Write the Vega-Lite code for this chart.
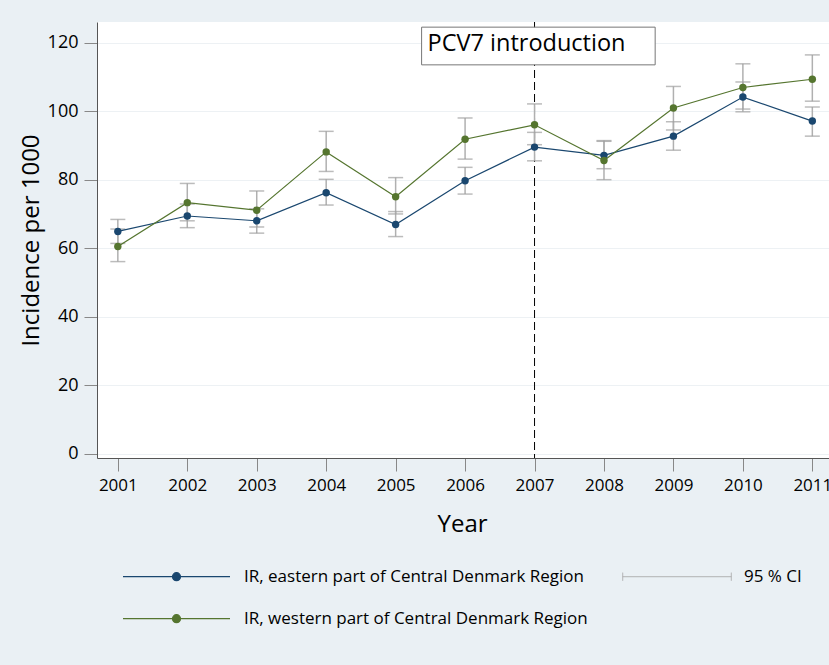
{
  "$schema": "https://vega.github.io/schema/vega-lite/v6.json",
  "width": 732,
  "height": 436,
  "autosize": {"type": "none"},
  "padding": {"left": 97, "top": 22, "right": 0, "bottom": 207},
  "background": "#eaf0f4",
  "config": {
    "view": {"fill": "white", "stroke": null},
    "font": "Open Sans",
    "axis": {
      "labelFont": "Open Sans",
      "titleFont": "Open Sans",
      "labelColor": "#000000",
      "titleColor": "#000000",
      "titleFontWeight": "normal",
      "domainColor": "#555555",
      "tickColor": "#888888",
      "tickSize": 13,
      "labelFontSize": 17,
      "titleFontSize": 24
    }
  },
  "datasets": {
    "ir": [
      {"year": 2001, "series": "IR, eastern part of Central Denmark Region", "ir": 64.9, "lo": 61.4, "hi": 68.4},
      {"year": 2002, "series": "IR, eastern part of Central Denmark Region", "ir": 69.4, "lo": 66.0, "hi": 72.9},
      {"year": 2003, "series": "IR, eastern part of Central Denmark Region", "ir": 68.0, "lo": 64.4, "hi": 71.5},
      {"year": 2004, "series": "IR, eastern part of Central Denmark Region", "ir": 76.2, "lo": 72.6, "hi": 80.1},
      {"year": 2005, "series": "IR, eastern part of Central Denmark Region", "ir": 66.9, "lo": 63.4, "hi": 70.7},
      {"year": 2006, "series": "IR, eastern part of Central Denmark Region", "ir": 79.7, "lo": 75.8, "hi": 83.6},
      {"year": 2007, "series": "IR, eastern part of Central Denmark Region", "ir": 89.5, "lo": 85.5, "hi": 93.8},
      {"year": 2008, "series": "IR, eastern part of Central Denmark Region", "ir": 87.1, "lo": 83.2, "hi": 91.2},
      {"year": 2009, "series": "IR, eastern part of Central Denmark Region", "ir": 92.7, "lo": 88.6, "hi": 96.9},
      {"year": 2010, "series": "IR, eastern part of Central Denmark Region", "ir": 104.1, "lo": 99.8, "hi": 108.5},
      {"year": 2011, "series": "IR, eastern part of Central Denmark Region", "ir": 97.1, "lo": 92.7, "hi": 101.2},
      {"year": 2001, "series": "IR, western part of Central Denmark Region", "ir": 60.5, "lo": 56.1, "hi": 65.6},
      {"year": 2002, "series": "IR, western part of Central Denmark Region", "ir": 73.3, "lo": 68.0, "hi": 78.9},
      {"year": 2003, "series": "IR, western part of Central Denmark Region", "ir": 71.1, "lo": 66.2, "hi": 76.7},
      {"year": 2004, "series": "IR, western part of Central Denmark Region", "ir": 88.1, "lo": 82.4, "hi": 94.1},
      {"year": 2005, "series": "IR, western part of Central Denmark Region", "ir": 75.0, "lo": 70.0, "hi": 80.6},
      {"year": 2006, "series": "IR, western part of Central Denmark Region", "ir": 91.8, "lo": 86.0, "hi": 98.0},
      {"year": 2007, "series": "IR, western part of Central Denmark Region", "ir": 96.0, "lo": 90.2, "hi": 102.1},
      {"year": 2008, "series": "IR, western part of Central Denmark Region", "ir": 85.6, "lo": 80.0, "hi": 91.4},
      {"year": 2009, "series": "IR, western part of Central Denmark Region", "ir": 100.9, "lo": 94.5, "hi": 107.2},
      {"year": 2010, "series": "IR, western part of Central Denmark Region", "ir": 106.9, "lo": 100.6, "hi": 113.8},
      {"year": 2011, "series": "IR, western part of Central Denmark Region", "ir": 109.3, "lo": 102.9, "hi": 116.4}
    ]
  },
  "layer": [
    {
      "data": {"values": [{"year": 2007}]},
      "mark": {"type": "rule", "color": "#000000", "strokeWidth": 1, "strokeDash": [8, 4]},
      "encoding": {
        "x": {
          "field": "year", "type": "quantitative",
          "scale": {"domain": [2000.7, 2011.24], "nice": false, "zero": false},
          "axis": {
            "values": [2001, 2002, 2003, 2004, 2005, 2006, 2007, 2008, 2009, 2010, 2011],
            "format": "d", "grid": false, "labelFlush": false, "labelOverlap": false,
            "labelPadding": 6, "title": "Year",
            "titleX": 365, "titleY": 73, "titleBaseline": "alphabetic", "titleAlign": "center"
          }
        }
      }
    },
    {
      "data": {"values": [{"x1": 2005.374, "x2": 2008.737, "y1": 113.5, "y2": 124.5}]},
      "mark": {"type": "rect", "fill": "white", "stroke": "#777777", "strokeWidth": 1},
      "encoding": {
        "x": {"field": "x1", "type": "quantitative"},
        "x2": {"field": "x2"},
        "y": {"field": "y1", "type": "quantitative"},
        "y2": {"field": "y2"}
      }
    },
    {
      "data": {"values": [{"x": 2005.46, "y": 117.4, "label": "PCV7 introduction"}]},
      "mark": {"type": "text", "align": "left", "baseline": "alphabetic", "fontSize": 23.5, "font": "Open Sans", "color": "#000000"},
      "encoding": {
        "x": {"field": "x", "type": "quantitative"},
        "y": {"field": "y", "type": "quantitative"},
        "text": {"field": "label"}
      }
    },
    {
      "data": {"name": "ir"},
      "mark": {"type": "rule", "color": "#b0b0b0", "strokeWidth": 1.5},
      "encoding": {
        "x": {"field": "year", "type": "quantitative"},
        "y": {"field": "lo", "type": "quantitative"},
        "y2": {"field": "hi"},
        "strokeDash": {
          "datum": "95 % CI",
          "scale": {"domain": ["95 % CI"], "range": [[1, 0]]},
          "legend": {
            "orient": "none", "legendX": 525, "legendY": 544.7, "title": null, "padding": 0,
            "symbolType": "M-1,-0.075V0.075M-1,0H1M1,-0.075V0.075",
            "symbolSize": 11794, "symbolStrokeColor": "#a8a8a8", "symbolStrokeWidth": 1,
            "symbolFillColor": "transparent",
            "clipHeight": 20, "labelOffset": 12, "labelFont": "Open Sans", "labelFontSize": 17, "labelColor": "#000000", "labelLimit": 0
          }
        }
      }
    },
    {
      "data": {"name": "ir"},
      "mark": {"type": "tick", "orient": "horizontal", "color": "#a0a0a0", "size": 15, "thickness": 1.5},
      "encoding": {
        "x": {"field": "year", "type": "quantitative"},
        "y": {"field": "lo", "type": "quantitative"}
      }
    },
    {
      "data": {"name": "ir"},
      "mark": {"type": "tick", "orient": "horizontal", "color": "#a0a0a0", "size": 15, "thickness": 1.5},
      "encoding": {
        "x": {"field": "year", "type": "quantitative"},
        "y": {"field": "hi", "type": "quantitative"}
      }
    },
    {
      "data": {"name": "ir"},
      "mark": {"type": "line", "strokeWidth": 1.2},
      "encoding": {
        "x": {"field": "year", "type": "quantitative"},
        "y": {
          "field": "ir", "type": "quantitative",
          "scale": {"domain": [-1.2, 126], "nice": false, "zero": false},
          "axis": {
            "values": [0, 20, 40, 60, 80, 100, 120],
            "grid": true, "gridColor": "#edf1f4", "gridWidth": 1,
            "labelPadding": 6, "labelFontSize": 18,
            "title": "Incidence per 1000",
            "titleAngle": 270, "titleX": -58.7, "titleY": 218,
            "titleAlign": "center", "titleBaseline": "alphabetic"
          }
        },
        "color": {
          "field": "series", "type": "nominal",
          "scale": {
            "domain": ["IR, eastern part of Central Denmark Region", "IR, western part of Central Denmark Region"],
            "range": ["#1a476f", "#55752f"]
          },
          "legend": {
            "orient": "none", "legendX": 25, "legendY": 544.7, "title": null, "padding": 0,
            "direction": "vertical",
            "symbolType": "M-1,0H1M-0.075,0A0.075,0.075,0,1,0,0.075,0A0.075,0.075,0,1,0,-0.075,0Z",
            "symbolSize": 11449, "symbolStrokeWidth": 1.2,
            "clipHeight": 20, "rowPadding": 22, "labelOffset": 13, "labelLimit": 0,
            "labelFont": "Open Sans", "labelFontSize": 17, "labelColor": "#000000",
            "encode": {
              "symbols": {
                "update": {
                  "fill": {"scale": "color", "field": "value"},
                  "stroke": {"scale": "color", "field": "value"},
                  "opacity": {"value": 1}
                }
              }
            }
          }
        }
      }
    },
    {
      "data": {"name": "ir"},
      "mark": {"type": "point", "filled": true, "size": 55, "opacity": 1},
      "encoding": {
        "x": {"field": "year", "type": "quantitative"},
        "y": {"field": "ir", "type": "quantitative"},
        "color": {"field": "series", "type": "nominal"}
      }
    }
  ]
}
